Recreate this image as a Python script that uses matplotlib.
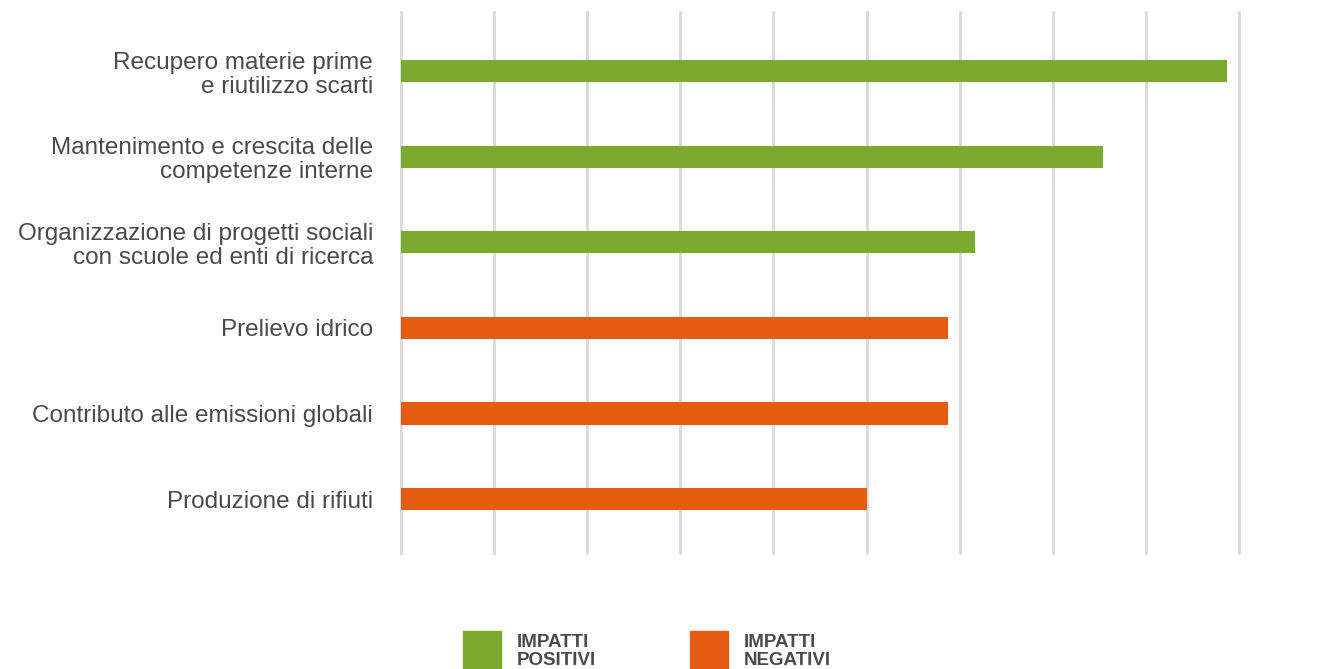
import matplotlib
matplotlib.use("Agg")
import matplotlib.pyplot as plt
from matplotlib.patches import Rectangle

categories = [
    "Recupero materie prime\ne riutilizzo scarti",
    "Mantenimento e crescita delle\ncompetenze interne",
    "Organizzazione di progetti sociali\ncon scuole ed enti di ricerca",
    "Prelievo idrico",
    "Contributo alle emissioni globali",
    "Produzione di rifiuti",
]
values = [8.87, 7.54, 6.16, 5.87, 5.87, 5.0]
groups = ["pos", "pos", "pos", "neg", "neg", "neg"]
legend_labels = ["IMPATTI\nPOSITIVI", "IMPATTI\nNEGATIVI"]

GREEN = "#7aab2e"
ORANGE = "#e55b10"
TEXT = "#4a4a4a"
colors = [GREEN if g == "pos" else ORANGE for g in groups]

plt.rcParams['font.family'] = ['Liberation Sans', 'DejaVu Sans']

fig = plt.figure(figsize=(13.19, 6.69), dpi=100)
ax = fig.add_axes([401/1319, 1-553/669, (1239-401)/1319, (553-12)/669])

y = list(range(len(categories)))
ax.barh(y, values, height=0.26, color=colors, zorder=3)
ax.set_xlim(0, 9)
ax.set_ylim(5.63, -0.69)
ax.set_xticks(range(0, 10))
ax.set_xticklabels([])
ax.tick_params(axis='x', length=0)
ax.tick_params(axis='y', length=0, pad=20)
ax.set_yticks(y)
ax.set_yticklabels(categories, fontsize=17.5, color=TEXT, linespacing=1.12)
ax.grid(axis='x', color='#d9d9d9', linewidth=2, zorder=0)
for gl in ax.get_xgridlines():
    gl.set_clip_on(False)
for s in ax.spines.values():
    s.set_visible(False)

# legend
for i, (lab, col) in enumerate(zip(legend_labels, [GREEN, ORANGE])):
    x0 = [463, 690][i]
    fig.add_artist(Rectangle((x0/1319, 0), 38/1319, (669-631)/669,
                             transform=fig.transFigure, color=col))
    fig.text((x0+54)/1319, 1-634/669, lab, fontsize=13.5, fontweight='bold',
             color=TEXT, va='top', ha='left', linespacing=1.08,
             family=['Liberation Sans Narrow', 'Liberation Sans', 'DejaVu Sans'])

fig.savefig("out.png", dpi=100)
